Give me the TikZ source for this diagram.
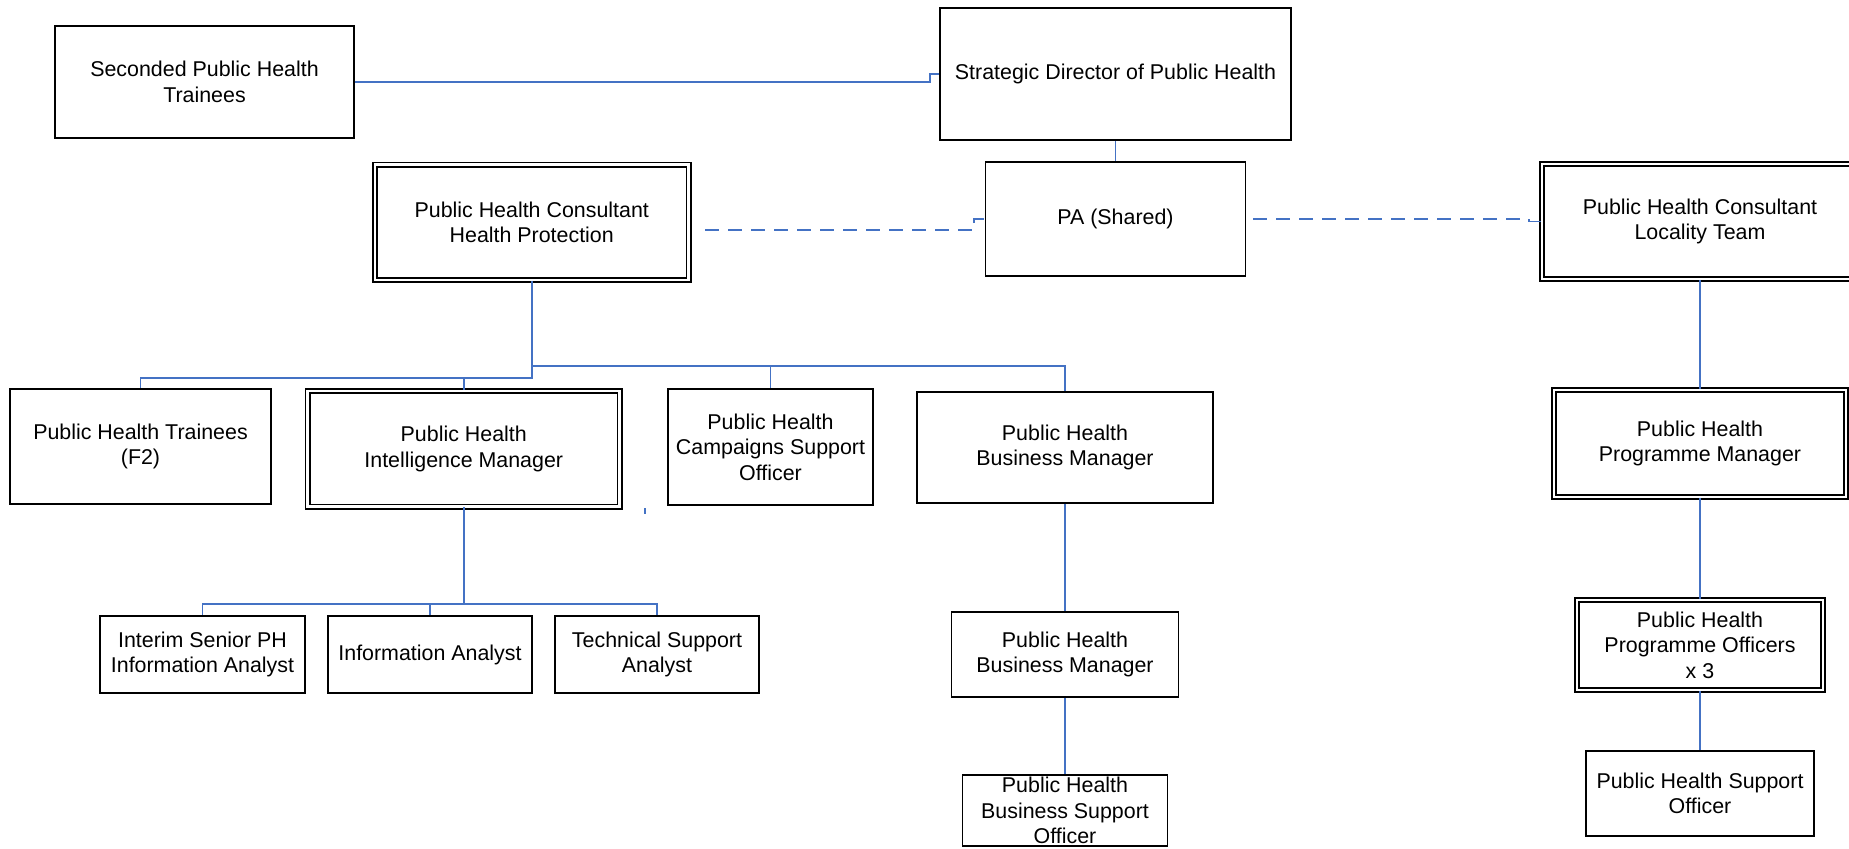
\documentclass[tikz,border=0pt]{standalone}
\usepackage{fontspec}
\setmainfont{Liberation Sans}
\usepackage{tikz}
\usetikzlibrary{shapes,arrows}
\definecolor{linkblue}{RGB}{68,114,196}
\tikzstyle{post} = [draw, fill=white, rectangle, line width=0.9pt,
    inner sep=0pt, align=center, font=\fontsize{10.7}{12.8}\selectfont]
\tikzstyle{dpost} = [post, double, line width=0.8pt, double distance=1.4pt]
\tikzstyle{link} = [draw=linkblue, line width=0.95pt]
\tikzstyle{dlink} = [link, dash pattern=on 7pt off 4.5pt]

\begin{document}
\begin{tikzpicture}[x=0.5pt, y=-0.5pt, node distance=100pt]
\useasboundingbox (0,0) rectangle (1849,848);
\clip (0,0) rectangle (1849,848);
% Nodes
	\node [post, minimum width=149.5pt, minimum height=56pt] (sec) at (204.5,82) {Seconded Public Health\\Trainees};
	\node [post, minimum width=175.5pt, minimum height=66pt] (sd) at (1115.5,74) {Strategic Director of Public Health};
	\node [post, below of=sd, node distance=72.5pt, minimum width=130pt, minimum height=57pt] (pa) {PA (Shared)};
	\node [dpost, minimum width=156.75pt, minimum height=57.75pt] (hp) at (531.75,222.25) {Public Health Consultant\\Health Protection};
	\node [dpost, minimum width=158pt, minimum height=57.5pt] (lt) at (1700,221.5) {Public Health Consultant\\Locality Team};
	\node [dpost, below of=lt, node distance=111pt, minimum width=146pt, minimum height=53.5pt] (pm) {Public Health\\Programme Manager};
	\node [dpost, below of=pm, node distance=100.75pt, minimum width=123pt, minimum height=45pt] (po) {Public Health\\Programme Officers\\x 3};
	\node [post, below of=po, node distance=74.25pt, minimum width=114pt, minimum height=42.5pt] (so) {Public Health Support\\Officer};
	\node [post, minimum width=130.5pt, minimum height=57.5pt] (tr) at (140.5,446.5) {Public Health Trainees\\(F2)};
	\node [dpost, minimum width=156pt, minimum height=57.75pt] (im) at (463.75,448.75) {Public Health\\Intelligence Manager};
	\node [post, minimum width=102.5pt, minimum height=58pt] (cam) at (770.5,447) {Public Health\\Campaigns Support\\Officer};
	\node [post, minimum width=148pt, minimum height=55.5pt] (bm) at (1065,447.5) {Public Health\\Business Manager};
	\node [post, below of=bm, node distance=103.5pt, minimum width=113.5pt, minimum height=42.5pt] (bm2) {Public Health\\Business Manager};
	\node [post, below of=bm2, node distance=78pt, minimum width=102.5pt, minimum height=35.5pt] (bso) {Public Health\\Business Support\\Officer};
	\node [post, minimum width=102.5pt, minimum height=38.5pt] (ia) at (202.5,654.5) {Interim Senior PH\\Information Analyst};
	\node [post, minimum width=102pt, minimum height=38.5pt] (inf) at (430,654.5) {Information Analyst};
	\node [post, minimum width=102pt, minimum height=38.5pt] (ts) at (657,654.5) {Technical Support\\Analyst};
	\coordinate (busL) at (531.75,378);
	\coordinate (busR) at (531.75,366);
	\coordinate (busI) at (463.75,604);
	\coordinate (d1) at (705,230);
	\coordinate (d2) at (1253,219);
% Connections
	\draw [link] (sec.east) -- ++(575,0) |- (sd.west);
	\draw [link] (sd) -- (pa);
	\draw [dlink] (d1) -- ++(269,0) |- (pa.west);
	\draw [dlink] (d2) -- ++(276,0) |- (lt.west);
	\draw [link] (hp.south) -- (busL) -| (tr.north);
	\draw [link] (busL -| im.north) -- (im.north);
	\draw [link] (busR) -| (cam.north);
	\draw [link] (busR) -| (bm.north);
	\draw [link] (im.south) -- (busI);
	\draw [link] (busI) -| (ia.north);
	\draw [link] (busI) -| (inf.north);
	\draw [link] (busI) -| (ts.north);
	\draw [link] (bm) -- (bm2);
	\draw [link] (bm2) -- (bso);
	\draw [link] (lt) -- (pm);
	\draw [link] (pm) -- (po);
	\draw [link] (po) -- (so);
	\draw [link] (645,508) -- (645,514);
\end{tikzpicture}
\end{document}
